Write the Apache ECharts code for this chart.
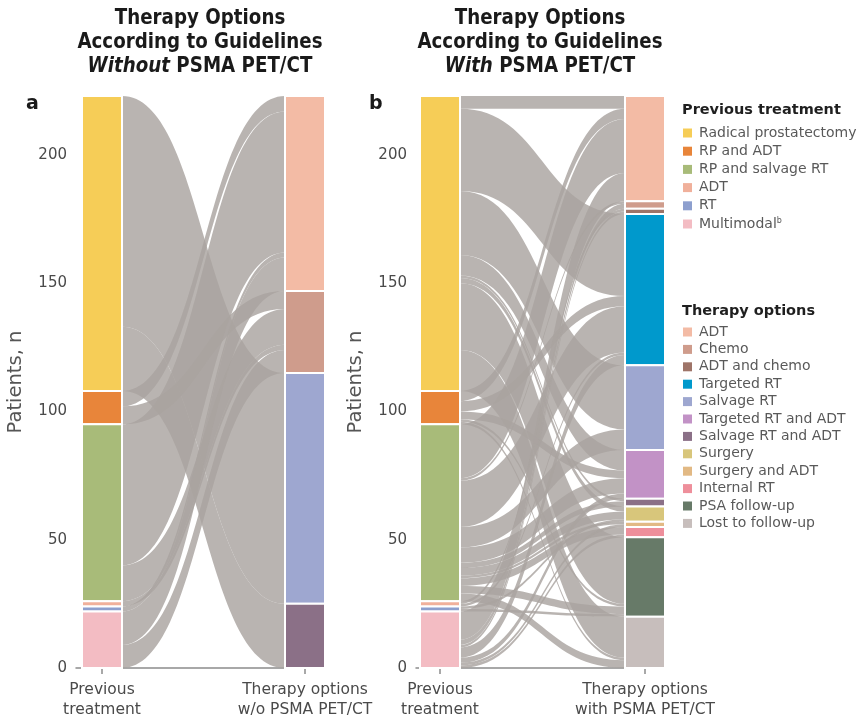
<!DOCTYPE html>
<html>
<head>
<meta charset="utf-8">
<script src="https://cdn.jsdelivr.net/npm/echarts@6/dist/echarts.min.js"></script>
<style>
html,body{margin:0;padding:0;background:#fff;}
#chart{width:861px;height:723px;}
</style>
</head>
<body>
<div id="chart"></div>
<script>
// 数据
const prevTreatments = ['Radical prostatectomy', 'RP and ADT', 'RP and salvage RT', 'ADT', 'RT', 'Multimodal'];
const therapyOptions = ['ADT', 'Chemo', 'ADT and chemo', 'Targeted RT', 'Salvage RT', 'Targeted RT and ADT',
    'Salvage RT and ADT', 'Surgery', 'Surgery and ADT', 'Internal RT', 'PSA follow-up', 'Lost to follow-up'];
const optionsWithout = ['ADT', 'Chemo', 'Salvage RT', 'Salvage RT and ADT'];

// rows = previous treatment, cols = optionsWithout
const flowsWithout = [
    [0, 0, 90, 25],
    [6, 7, 0, 0],
    [55, 14, 0, 0],
    [0, 2, 0, 0],
    [2, 0, 0, 0],
    [13, 9, 0, 0]
];
// rows = previous treatment, cols = therapyOptions
const flowsWith = [
    [5, 0, 0, 32, 25, 8, 1, 2, 0, 0, 26, 16],
    [4, 0, 0, 4, 0, 3, 0, 0, 0, 0, 1, 1],
    [21, 1, 0, 18, 8, 6, 2, 3, 1, 3, 3, 3],
    [0, 0, 1, 1, 0, 0, 0, 0, 0, 0, 0, 0],
    [0, 0, 0, 0, 0, 0, 0, 1, 0, 0, 1, 0],
    [11, 2, 1, 4, 0, 2, 0, 0, 1, 1, 0, 0]
];
const yTicks = [0, 50, 100, 150, 200];
const stagesA = ['Previous\ntreatment', 'Therapy options\nw/o PSMA PET/CT'];
const stagesB = ['Previous\ntreatment', 'Therapy options\nwith PSMA PET/CT'];

// 颜色
const prevColors = ['#f6cd57', '#e8853a', '#a8bb79', '#f0b09b', '#8d9fce', '#f3bcc3'];
const therapyColors = {
    'ADT': '#f3bba5', 'Chemo': '#cf9c8c', 'ADT and chemo': '#9e7468', 'Targeted RT': '#0099cc',
    'Salvage RT': '#9ea7d0', 'Targeted RT and ADT': '#c292c6', 'Salvage RT and ADT': '#8b7087',
    'Surgery': '#d8c67b', 'Surgery and ADT': '#e2b984', 'Internal RT': '#ee8f9b',
    'PSA follow-up': '#677a68', 'Lost to follow-up': '#c7bebc'
};

const FONT = '"DejaVu Sans", sans-serif';
const TOP = 96, HEIGHT = 572, NODE_W = 40;

let myChart = echarts.init(document.getElementById('chart'));

function total(m) {
    let s = 0;
    m.forEach(r => r.forEach(v => s += v));
    return s;
}

// 一个面板: 坐标轴 + 桑基图
function panel(idx, axisX, nodeX, nodeRight, rightNames, matrix, stages) {
    let nodes = [];
    let links = [];
    prevTreatments.forEach((n, i) => nodes.push({name: 'P|' + n, itemStyle: {color: prevColors[i]}}));
    rightNames.forEach(n => nodes.push({name: 'T|' + n, itemStyle: {color: therapyColors[n]}}));
    for (let i = 0; i < matrix.length; i++) {
        for (let j = 0; j < matrix[i].length; j++) {
            if (matrix[i][j] > 0) links.push({source: 'P|' + prevTreatments[i], target: 'T|' + rightNames[j], value: matrix[i][j]});
        }
    }
    let c0 = nodeX + NODE_W / 2, c1 = nodeRight - NODE_W / 2, unit = c1 - c0;
    return {
        grid: {left: axisX, top: TOP, width: nodeRight - axisX, height: HEIGHT},
        xAxis: {
            gridIndex: idx, type: 'value',
            min: (axisX - c0) / unit, max: 1 + (NODE_W / 2) / unit,
            axisLine: {show: true, lineStyle: {color: '#8c8c8c', width: 1.5}},
            splitLine: {show: false},
            axisTick: {show: true, customValues: [0, 1], length: 6, lineStyle: {color: '#8c8c8c', width: 1.5}},
            axisLabel: {
                customValues: [0, 1], margin: 12,
                formatter: v => stages[Math.round(v)],
                color: '#4a4a4a', fontSize: 15.5, lineHeight: 20, fontFamily: FONT
            }
        },
        yAxis: {
            gridIndex: idx, type: 'value', min: 0, max: total(matrix),
            name: 'Patients, n', nameLocation: 'middle', nameGap: 50,
            nameTextStyle: {color: '#555', fontSize: 19.5, fontFamily: FONT},
            axisLine: {show: true, lineStyle: {color: '#8c8c8c', width: 1.5}},
            splitLine: {show: false},
            axisTick: {show: true, customValues: yTicks, length: 6, lineStyle: {color: '#8c8c8c', width: 1.5}},
            axisLabel: {customValues: yTicks, margin: 9, color: '#4a4a4a', fontSize: 15, fontFamily: FONT}
        },
        series: {
            type: 'sankey', left: nodeX, top: TOP, width: nodeRight - nodeX, height: HEIGHT,
            nodeWidth: NODE_W, nodeGap: 0, layoutIterations: 0, draggable: false,
            silent: true, animation: false,
            label: {show: false},
            emphasis: {disabled: true},
            itemStyle: {borderColor: '#fff', borderWidth: 2},
            lineStyle: {color: '#aaa3a0', opacity: 0.82, curveness: 0.5},
            data: nodes,
            links: links
        }
    };
}

let pa = panel(0, 76, 82, 325, optionsWithout, flowsWithout, stagesA);
let pb = panel(1, 416, 420, 665, therapyOptions, flowsWith, stagesB);

// 标题 (横向压缩)
function titleText(x, word) {
    return {
        type: 'text', x: x, y: 6, scaleX: 0.83,
        style: {
            text: '{b|Therapy Options}\n{b|According to Guidelines}\n{i|' + word + '}{b| PSMA PET/CT}',
            align: 'center',
            rich: {
                b: {fontFamily: FONT, fontWeight: 'bold', fontSize: 22, lineHeight: 24, fill: '#1a1a1a'},
                i: {fontFamily: FONT, fontWeight: 'bold', fontStyle: 'italic', fontSize: 22, lineHeight: 24, fill: '#1a1a1a'}
            }
        }
    };
}

// 图例
let graphics = [titleText(200, 'Without'), titleText(540, 'With'),
    {type: 'text', x: 26, y: 95, style: {text: 'a', font: 'bold 19px ' + FONT, fill: '#1a1a1a'}},
    {type: 'text', x: 369, y: 95, style: {text: 'b', font: 'bold 19px ' + FONT, fill: '#1a1a1a'}}];

function legendBlock(y0, header, names, colors, first, gap) {
    graphics.push({type: 'text', x: 682, y: y0 - 7, style: {text: header, font: 'bold 14.5px ' + FONT, fill: '#1f1f1f'}});
    names.forEach((n, i) => {
        let y = y0 + first + i * gap;
        graphics.push({type: 'rect', shape: {x: 683, y: y - 4.5, width: 9, height: 9}, style: {fill: colors[i]}});
        let txt = n === 'Multimodal' ? '{t|Multimodal}{s|b}' : '{t|' + n + '}';
        graphics.push({
            type: 'text', x: 699, y: y, style: {
                text: txt, verticalAlign: 'middle',
                rich: {
                    t: {fontFamily: FONT, fontSize: 14, fill: '#595959'},
                    s: {fontFamily: FONT, fontSize: 8, fill: '#595959', padding: [0, 0, 7, 0]}
                }
            }
        });
    });
}
legendBlock(110, 'Previous treatment', prevTreatments, prevColors, 23, 18.2);
legendBlock(311, 'Therapy options', therapyOptions, therapyOptions.map(n => therapyColors[n]), 21, 17.4);

myChart.setOption({
    animation: false,
    grid: [pa.grid, pb.grid],
    xAxis: [pa.xAxis, pb.xAxis],
    yAxis: [pa.yAxis, pb.yAxis],
    series: [pa.series, pb.series],
    graphic: graphics
});
</script>
</body>
</html>
